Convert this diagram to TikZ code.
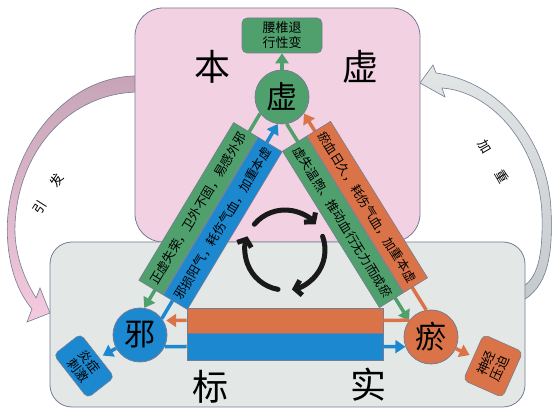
\documentclass[tikz,border=0pt]{standalone}
\usepackage{fontspec}
\setmainfont{Noto Sans CJK SC}
\usetikzlibrary{arrows.meta,calc}
\definecolor{cgreen}{RGB}{80,160,110}
\definecolor{cblue}{RGB}{28,136,208}
\definecolor{corange}{RGB}{218,116,72}
\definecolor{cpink}{RGB}{242,210,226}
\definecolor{cgrey}{RGB}{227,232,230}
\definecolor{cline}{RGB}{118,124,148}
\definecolor{pinkdark}{RGB}{198,164,182}
\definecolor{pinklight}{RGB}{244,202,222}
\definecolor{greydark}{RGB}{196,201,204}
\definecolor{greylight}{RGB}{226,230,230}
\begin{document}
\begin{tikzpicture}[x=1pt,y=1pt,
  circ/.style={circle, minimum size=54pt, inner sep=0pt, draw=cline, line width=0.8pt, font=\fontsize{31}{31}\selectfont},
  big/.style={inner sep=0pt, font=\fontsize{36}{36}\selectfont},
  band/.style={draw=cline, line width=0.6pt, minimum width=184pt, minimum height=28pt, inner sep=0pt, font=\fontsize{12.5}{13}\selectfont},
  barbox/.style={draw=cline, line width=0.6pt, minimum width=196pt, inner sep=0pt},
  smallbox/.style={draw=cline, line width=0.6pt, rounded corners=5pt, align=center, inner sep=0pt, font=\fontsize{13}{14.5}\selectfont},
  conn/.style={line width=3.5pt, -{Triangle[length=10pt,width=13pt]}},
  plainline/.style={line width=3.5pt},
  cyc/.style={line width=5pt, line cap=round, color=black!90, -{Straight Barb[length=6pt,width=15pt]}},
  arrtxt/.style={inner sep=0pt, font=\fontsize{13}{13}\selectfont}
]
\useasboundingbox[fill=white] (0,0) rectangle (552,412);

% big curved arrows
\shadedraw[top color=pinkdark, bottom color=pinklight, draw=cline, line width=0.6pt]
  (140,336) .. controls (60,338) and (0,252) .. (8,167)
  .. controls (11,135) and (22,115) .. (32,103)
  -- (27,90) -- (50,99) -- (40,124) -- (36,114)
  .. controls (22,137) and (14,162) .. (15,187)
  .. controls (18,262) and (70,320) .. (140,320) -- cycle;
\shadedraw[top color=greylight, bottom color=greydark, draw=cline, line width=0.6pt]
  (520,110) .. controls (548,124) and (553,157) .. (551,202)
  .. controls (548,272) and (500,330) .. (436,339)
  -- (433,347) -- (420,329) -- (445,315) -- (442,324)
  .. controls (495,320) and (540,262) .. (542,197)
  .. controls (543,157) and (538,132) .. (520,124) -- cycle;

% boxes
\draw[fill=cpink, draw=cline, line width=0.8pt, rounded corners=28pt] (135,170) rectangle (420,404);
\draw[fill=cgrey, draw=cline, line width=0.8pt, rounded corners=22pt] (50,5) rectangle (525,170);

% curved arrow labels
\node[arrtxt, rotate=58] (yin) at (40,205) {引};
\node[arrtxt, rotate=58] (fa) at (57,232) {发};
\node[arrtxt, rotate=-60] (jia) at (485,265) {加};
\node[arrtxt, rotate=-60] (zhong) at (502,235) {重};

% big characters
\node[big] (ben) at (212,345) {本};
\node[big] (xub) at (360,345) {虚};
\node[big] (biao) at (210,25) {标};
\node[big] (shi) at (368,27) {实};

% circles
\node[circ, fill=cgreen] (xu) at (282,315) {虚};
\node[circ, fill=cblue] (xie) at (140,77) {邪};
\node[circ, fill=corange] (yu) at (431,75) {瘀};

% top box
\node[smallbox, fill=cgreen, minimum width=80pt, minimum height=35pt, font=\fontsize{13}{15}\selectfont] (top) at (282,376.5) {腰椎退\\行性变};
\draw[conn, color=cgreen] (xu.north) -- (top.south);

% small boxes
\node[smallbox, fill=cblue, rotate=-52, minimum width=55pt, minimum height=34pt] (yz) at (84,46) {炎症\\刺激};
\node[smallbox, fill=corange, rotate=66, minimum width=50pt, minimum height=43pt] (sj) at (493,46) {神经\\压迫};
\draw[conn, color=cblue, shorten >=4pt] (xie) -- (yz);
\draw[conn, color=corange, shorten >=4pt] (yu) -- (sj);

% central cycle
\coordinate (cc) at (285,162);
\draw[cyc] ($(cc)+(140:40)$) arc[start angle=140, end angle=40, radius=40];
\draw[cyc] ($(cc)+(20:40)$) arc[start angle=20, end angle=-80, radius=40];
\draw[cyc] ($(cc)+(-100:40)$) arc[start angle=-100, end angle=-200, radius=40];

% diagonal arrows
\draw[conn, color=cgreen] (xu.217) -- (xie.81);
\draw[conn, color=cblue] (xie.37) -- (xu.261);
\draw[conn, color=corange] (yu.100) -- (xu.323);
\draw[conn, color=cgreen] (xu.280) -- (yu.143);

% bars
\node[barbox, fill=corange, minimum height=25pt] (obar) at (285,91.5) {};
\node[barbox, fill=cblue, minimum height=27pt] (bbar) at (285,65.5) {};
\draw[conn, color=corange, shorten >=3pt] (obar.west) -- (xie.32);
\draw[plainline, color=corange] (obar.east) -- (yu.142);
\draw[plainline, color=cblue] (xie.-25) -- (bbar.west);
\draw[conn, color=cblue] (bbar.east) -- (yu.201);

% bands
\node[band, fill=cgreen, rotate=59, anchor=south] (lg) at (210.5,196) {正虚失荣，卫外不固，易感外邪};
\node[band, fill=cblue, rotate=59, anchor=north] (lb) at (210.5,196) {邪损阳气，耗伤气血，加重本虚};
\node[band, fill=corange, rotate=-58.2, anchor=south] (ro) at (355,197.5) {瘀血日久，耗伤气血，加重本虚};
\node[band, fill=cgreen, rotate=-58.2, anchor=north] (rg) at (355,197.5) {虚失温煦、推动血行无力而成瘀};
\end{tikzpicture}
\end{document}
